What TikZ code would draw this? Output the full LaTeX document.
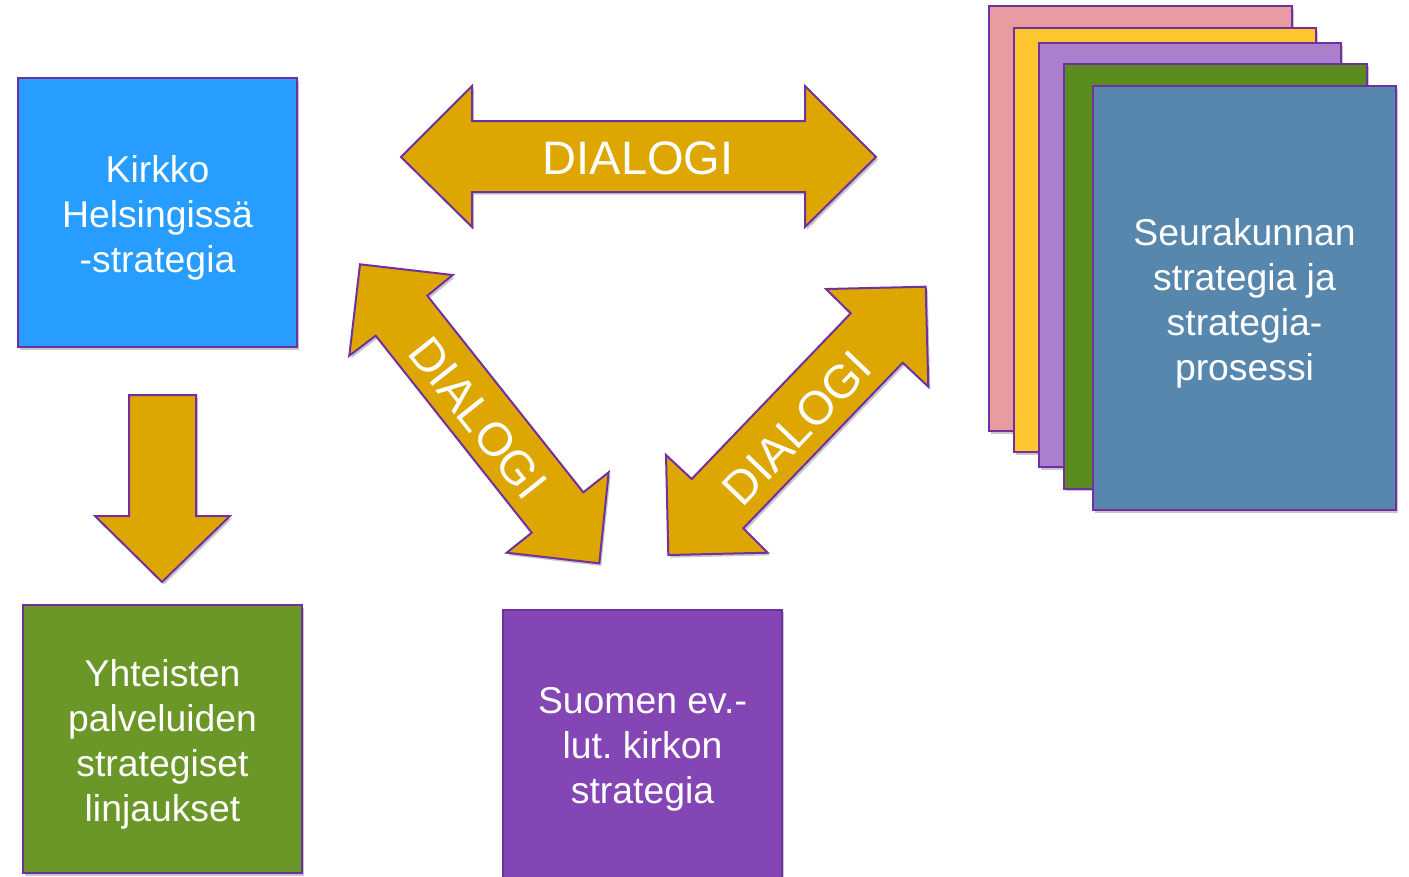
\documentclass[tikz,border=0pt]{standalone}
\usepackage{fontspec}
\setmainfont{Liberation Sans}
\usetikzlibrary{shadows}
\frenchspacing
\definecolor{edgepurple}{RGB}{112,48,160}
\definecolor{goldarrow}{RGB}{221,166,0}
\definecolor{bluebox}{RGB}{38,157,255}
\definecolor{greenbox}{RGB}{107,150,40}
\definecolor{purplebox}{RGB}{132,70,180}
\definecolor{pinkpage}{RGB}{232,156,160}
\definecolor{yellowpage}{RGB}{253,198,47}
\definecolor{lavpage}{RGB}{170,128,206}
\definecolor{greenpage}{RGB}{91,140,32}
\definecolor{steelpage}{RGB}{88,135,174}
\begin{document}
\begin{tikzpicture}[x=0.75pt,y=-0.75pt,
  shade/.style={drop shadow={shadow xshift=1.5pt,shadow yshift=-2pt,opacity=0.22,fill=black}},
  box/.style={draw=edgepurple,line width=1.5pt,inner sep=0pt,shade},
  boxtext/.style={inner sep=0pt,align=center,text=white,font=\fontsize{28}{33.75}\selectfont\frenchspacing},
  blockarrow/.style={fill=goldarrow,draw=edgepurple,line width=1.5pt,line join=miter,shade},
  dialogi/.style={text=white,inner sep=0pt,font=\fontsize{35.25}{40}\selectfont}]
\useasboundingbox (0,0) rectangle (1409,876);
\clip (0,0) rectangle (1409,876);
\fill[white] (0,0) rectangle (1409,876);

% stacked pages
\node[box,fill=pinkpage,minimum width=227.25pt,minimum height=318.75pt] (p1) at (1140.5,218.5) {};
\node[box,fill=yellowpage,minimum width=226.5pt,minimum height=318pt] (p2) at (1165,240) {};
\node[box,fill=lavpage,minimum width=226.5pt,minimum height=318pt] (p3) at (1190,255) {};
\node[box,fill=greenpage,minimum width=227.25pt,minimum height=318.75pt] (p4) at (1215,276) {};
\node[box,fill=steelpage,minimum width=227.25pt,minimum height=318pt] (p5) at (1244.5,298) {};
\node[boxtext] (p5t) at (1244.5,303) {Seurakunnan\\strategia ja\\strategia-\\prosessi};

% boxes
\node[box,fill=bluebox,minimum width=209.25pt,minimum height=201.75pt] (kh) at (157.5,212.5) {};
\node[boxtext] (kht) at (157.5,217.5) {Kirkko\\Helsingiss\"a\\-strategia};
\node[box,fill=greenbox,minimum width=209.25pt,minimum height=201pt] (yp) at (162.5,739) {};
\node[boxtext] (ypt) at (162.5,744) {Yhteisten\\palveluiden\\strategiset\\linjaukset};
\node[box,fill=purplebox,minimum width=209.25pt,minimum height=202pt] (sk) at (642.5,744.3) {};
\node[boxtext] (skt) at (642.5,749.3) {Suomen ev.-\\lut. kirkon\\strategia};

% down arrow
\draw[blockarrow] (129,395) -- (196,395) -- (196,516) -- (230,516) -- (162,582)
  -- (95,516) -- (129,516) -- cycle;

% top double arrow
\draw[blockarrow] (401,157) -- (472,86) -- (472,121) -- (805,121) -- (805,86) -- (876,157)
  -- (805,227) -- (805,192) -- (472,192) -- (472,227) -- cycle;
\node[dialogi] (d1) at (638,158) {DIALOGI};

% left diagonal double arrow
\draw[blockarrow] (360,264.3) -- (452.7,275) -- (427.3,295.7) -- (583.3,492.3) -- (608.7,472.3)
  -- (599.3,563.3) -- (506.7,552.7) -- (531.7,532.7) -- (375.7,335.7) -- (349.3,355.7) -- cycle;
\node[dialogi,rotate=-51.6] (d2) at (478,418) {DIALOGI};

% right diagonal double arrow
\draw[blockarrow] (925.7,286.7) -- (928.3,386.7) -- (902.7,362.7) -- (743.3,528.3) -- (767.7,552.7)
  -- (668.3,555) -- (666,455) -- (691.7,479) -- (850.7,313.3) -- (826,289) -- cycle;
\node[dialogi,rotate=46.2] (d3) at (797,428) {DIALOGI};
\end{tikzpicture}
\end{document}
